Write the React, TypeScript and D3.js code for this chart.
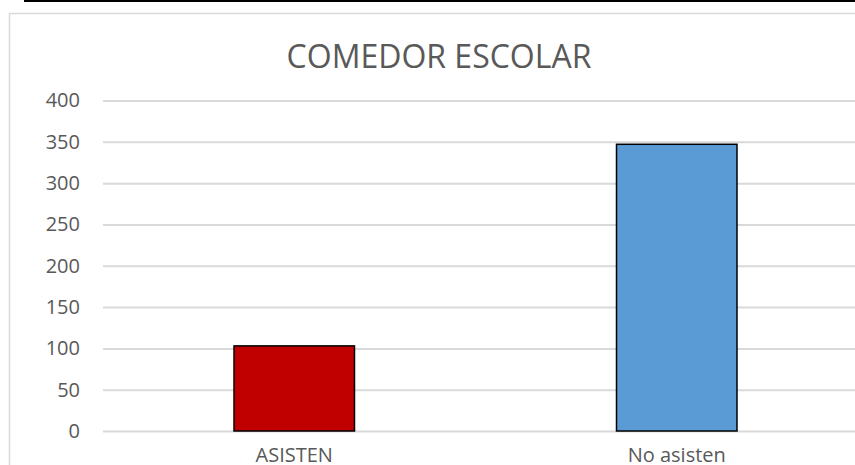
import React, { useRef, useEffect } from 'react';
import * as d3 from 'd3';

const categories = ['ASISTEN', 'No asisten'];
const values = [103, 347];
const barColors = ['#C00000', '#5B9BD5'];
const yTicks = [0, 50, 100, 150, 200, 250, 300, 350, 400];
const title = 'COMEDOR ESCOLAR';

const width = 855;
const height = 465;

const App = () => {
  const svgRef = useRef<SVGSVGElement>(null);

  useEffect(() => {
    const svg = d3.select(svgRef.current);
    svg.selectAll('*').remove();

    const font = '"Open Sans", "Liberation Sans", sans-serif';
    const textColor = '#595959';

    // page edge line and chart frame
    svg.append('rect').attr('x', 24).attr('y', 0).attr('width', width).attr('height', 2).attr('fill', '#000');
    svg.append('rect')
      .attr('x', 9.5).attr('y', 13.5)
      .attr('width', 900).attr('height', 500)
      .attr('fill', '#fff')
      .attr('stroke', '#d9d9d9').attr('stroke-width', 1.5);

    const plot = { left: 103, right: 868, top: 100.5, bottom: 431 };

    const x = d3.scaleBand()
      .domain(categories)
      .range([plot.left, plot.right])
      .paddingInner(0.685)
      .paddingOuter(0.3425);

    const y = d3.scaleLinear().domain([0, 400]).range([plot.bottom, plot.top]);

    svg.append('text')
      .attr('x', 439).attr('y', 68)
      .attr('text-anchor', 'middle')
      .attr('font-family', font).attr('font-size', 32)
      .attr('fill', textColor)
      .text(title);

    const yAxis = svg.append('g')
      .attr('transform', `translate(${plot.left},0)`)
      .call(d3.axisLeft(y).tickValues(yTicks).tickSize(-(plot.right - plot.left)).tickPadding(23));
    yAxis.select('.domain').remove();
    yAxis.selectAll('.tick line').attr('stroke', '#d9d9d9').attr('stroke-width', 2);
    yAxis.selectAll('.tick text')
      .attr('font-family', font).attr('font-size', 20)
      .attr('fill', textColor);

    svg.selectAll('.bar')
      .data(values)
      .enter().append('rect')
      .attr('class', 'bar')
      .attr('x', (d, i) => x(categories[i])!)
      .attr('y', d => y(d))
      .attr('width', x.bandwidth())
      .attr('height', d => plot.bottom - y(d))
      .attr('fill', (d, i) => barColors[i])
      .attr('stroke', '#000').attr('stroke-width', 1.5);

    const xAxis = svg.append('g')
      .attr('transform', `translate(0,${plot.bottom})`)
      .call(d3.axisBottom(x).tickSize(0).tickPadding(17));
    xAxis.select('.domain').remove();
    xAxis.selectAll('.tick text')
      .attr('font-family', font).attr('font-size', 20)
      .attr('fill', textColor);
  }, []);

  return (
    <svg ref={svgRef} width={width} height={height}
      style={{ position: 'absolute', left: 0, top: 0, display: 'block', background: '#fff' }} />
  );
};

export default App;
